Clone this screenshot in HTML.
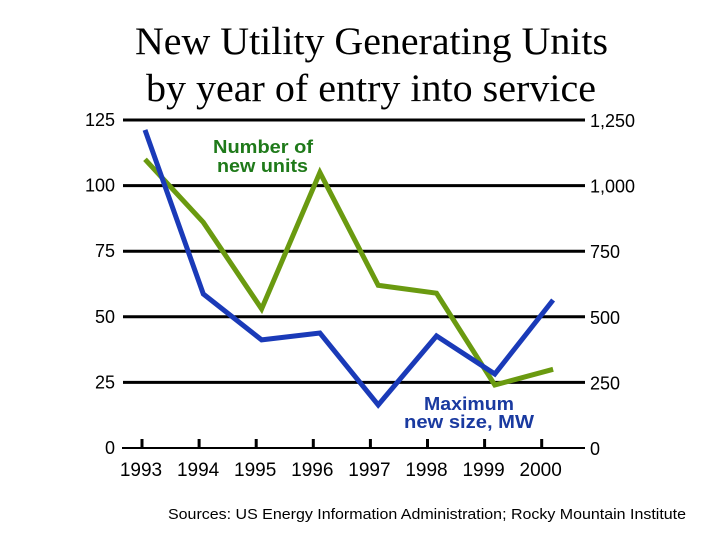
<!DOCTYPE html>
<html><head><meta charset="utf-8"><style>
html,body{margin:0;padding:0;background:#fff;width:720px;height:540px;overflow:hidden}
svg text{font-family:"Liberation Sans",sans-serif}
</style></head><body>
<svg id="chart" width="720" height="540" viewBox="0 0 720 540">
<text x="135" y="54" textLength="473" lengthAdjust="spacingAndGlyphs" style="font-family:'Liberation Serif',serif" font-size="39">New Utility Generating Units</text>
<text x="146" y="101" textLength="450" lengthAdjust="spacingAndGlyphs" style="font-family:'Liberation Serif',serif" font-size="39">by year of entry into service</text>
<g id="grid"></g><g id="axes"></g><g id="series"></g>
<text x="213" y="153" textLength="100" lengthAdjust="spacingAndGlyphs" font-size="18" font-weight="bold" fill="#1f7a1a">Number of</text>
<text x="217" y="172" textLength="91" lengthAdjust="spacingAndGlyphs" font-size="18" font-weight="bold" fill="#1f7a1a">new units</text>
<text x="424" y="410" textLength="90" lengthAdjust="spacingAndGlyphs" font-size="18" font-weight="bold" fill="#1a3aa0">Maximum</text>
<text x="404" y="428" textLength="130" lengthAdjust="spacingAndGlyphs" font-size="18" font-weight="bold" fill="#1a3aa0">new size, MW</text>
<text x="168" y="519" textLength="518" lengthAdjust="spacingAndGlyphs" font-size="15">Sources: US Energy Information Administration; Rocky Mountain Institute</text>
</svg>
<script>
const years=["1993","1994","1995","1996","1997","1998","1999","2000"];
const units=[110,86,53,105,62,59,24,30];
const maxSizeMW=[1212,587,412,438,164,427,282,564];
const leftTicks=["0","25","50","75","100","125"];
const rightTicks=["0","250","500","750","1,000","1,250"];
const NS="http://www.w3.org/2000/svg";
const x0=145,dx=58.3,yBase=448,yTop=120;
const xs=i=>x0+i*dx;
const xt=i=>142+i*57.1;
const yL=v=>yBase-(v/125)*(yBase-yTop);
const yR=v=>yBase-(v/1250)*(yBase-yTop);
function mk(tag,attrs,parent,txt){const e=document.createElementNS(NS,tag);for(const k in attrs)e.setAttribute(k,attrs[k]);if(txt!==undefined)e.textContent=txt;parent.appendChild(e);return e;}
const grid=document.getElementById('grid'),axes=document.getElementById('axes'),ser=document.getElementById('series');
leftTicks.forEach((t,i)=>{const v=i*25,y=yL(v);
 if(i>0){const l=mk('line',{x1:123,x2:585,y1:y,y2:y,stroke:'#000','stroke-width':3},grid);
 
 }
 const a=mk('text',{x:115,y:y+6,'text-anchor':'end','font-size':18},axes,t);
 
 
 const b=mk('text',{x:590,y:y+7,'font-size':18},axes,rightTicks[i]);
 
 
});
const ax=mk('line',{x1:122,x2:585,y1:yBase,y2:yBase,stroke:'#000','stroke-width':2},axes);


years.forEach((yr,i)=>{const x=xt(i);
 const tk=mk('line',{x1:x,x2:x,y1:yBase-9,y2:yBase,stroke:'#000','stroke-width':3},axes);
 
 
 const t=mk('text',{x:x-1,y:476,'text-anchor':'middle','font-size':19},axes,yr);
 
 
});
const g=mk('polyline',{points:units.map((v,i)=>xs(i)+','+yL(v)).join(' '),fill:'none',stroke:'#6a9a10','stroke-width':5,'stroke-linejoin':'miter'},ser);


const b=mk('polyline',{points:maxSizeMW.map((v,i)=>xs(i)+','+yR(v)).join(' '),fill:'none',stroke:'#1a3ab8','stroke-width':5,'stroke-linejoin':'miter'},ser);


</script>
</body></html>
